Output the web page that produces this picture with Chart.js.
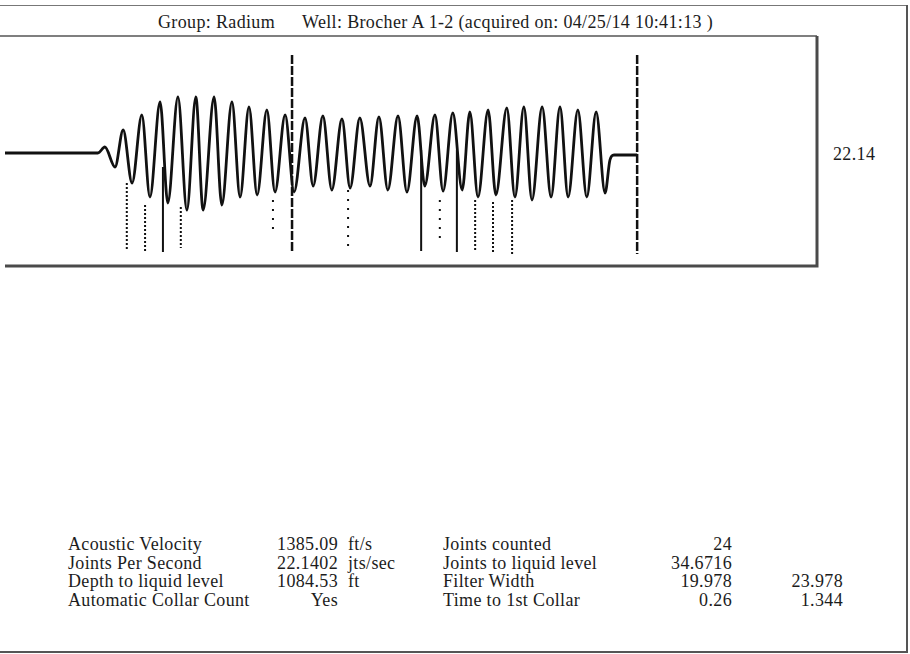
<!DOCTYPE html>
<html>
<head>
<meta charset="utf-8">
<script src="https://cdn.jsdelivr.net/npm/chart.js@4.4.1/dist/chart.umd.min.js"></script>
<style>
  html, body { margin: 0; padding: 0; background: #fff; }
  body { width: 910px; height: 654px; position: relative; overflow: hidden;
         font-family: 'Liberation Serif', 'Times New Roman', serif; color: #1c1c1c; }
  .frame-top { position: absolute; left: 0; top: 5px; width: 908px; border-top: 1px solid #777; }
  .frame-right { position: absolute; left: 906px; top: 5px; height: 648px; border-left: 2px solid #555; }
  .frame-bottom { position: absolute; left: 0; top: 651px; width: 908px; border-top: 2px solid #555; }
  .txt { position: absolute; font-size: 18px; line-height: 18px; white-space: nowrap; letter-spacing: 0.35px; }
  .r { text-align: right; width: 120px; }
  #plotWrap { position: absolute; left: 0; top: 30px; width: 830px; height: 245px; }
</style>
</head>
<body>
<div class="frame-top"></div>
<div class="frame-right"></div>
<div class="frame-bottom"></div>

<div class="txt" style="left:158px; top:13px;">Group: Radium</div>
<div class="txt" style="left:302px; top:13px;">Well: Brocher A 1-2 (acquired on: 04/25/14 10:41:13 )</div>
<div class="txt" id="jpsLabel" style="left:833px; top:145px;"></div>

<div id="plotWrap"><canvas id="acousticChart"></canvas></div>
<div id="table"></div>

<script>
// acoustic trace, time in seconds, amplitude relative
const waveTime = [0, 0.229, 0.246, 0.271, 0.291, 0.313, 0.337, 0.357, 0.382, 0.401,
  0.426, 0.448, 0.470, 0.488, 0.515, 0.534, 0.559, 0.579, 0.601, 0.621,
  0.645, 0.665, 0.690, 0.712, 0.739, 0.759, 0.783, 0.805, 0.830, 0.850,
  0.874, 0.899, 0.921, 0.943, 0.968, 0.990, 1.015, 1.034, 1.059, 1.079,
  1.103, 1.126, 1.145, 1.165, 1.190, 1.209, 1.236, 1.256, 1.278, 1.298,
  1.323, 1.345, 1.367, 1.387, 1.411, 1.433, 1.456, 1.478, 1.490, 1.500, 1.557];
const waveAmp = [-0.02, -0.02, 0.04, -0.16, 0.21, -0.32, 0.36, -0.46, 0.49, -0.52,
  0.54, -0.59, 0.54, -0.59, 0.54, -0.54, 0.49, -0.46, 0.44, -0.44,
  0.41, -0.41, 0.36, -0.41, 0.33, -0.35, 0.35, -0.39, 0.32, -0.37,
  0.33, -0.35, 0.34, -0.39, 0.35, -0.41, 0.35, -0.35, 0.36, -0.40,
  0.38, -0.39, 0.39, -0.46, 0.41, -0.44, 0.43, -0.46, 0.44, -0.49,
  0.44, -0.46, 0.44, -0.46, 0.41, -0.46, 0.39, -0.42, -0.09, -0.04, -0.04];

// collar picks
const dottedCollarTimes = [0.300, 0.345, 0.433, 1.158, 1.202, 1.249];
const dottedCollarTops = [-0.32, -0.54, -0.56, -0.49, -0.51, -0.49];
const dottedCollarBottoms = [-1.00, -1.00, -0.97, -1.01, -1.02, -1.03];
const sparseCollarTimes = [0.660, 0.845, 1.071];
const sparseCollarTops = [-0.49, -0.39, -0.49];
const sparseCollarBottoms = [-0.83, -0.96, -0.93];
const solidCollarTimes = [0.389, 1.025, 1.113];
const solidCollarTops = [-0.16, 0.01, 0.01];
const solidCollarBottoms = [-1.01, -1.00, -1.01];
// selection markers
const markerTimes = [0.707, 1.557];
const markerTops = [0.96, 0.96];
const markerBottoms = [-1.02, -1.03];

const jointsPerSecond = '22.14';

const leftLabels = ['Acoustic Velocity', 'Joints Per Second', 'Depth to liquid level', 'Automatic Collar Count'];
const leftValues = ['1385.09', '22.1402', '1084.53', 'Yes'];
const leftUnits = ['ft/s', 'jts/sec', 'ft', ''];
const rightLabels = ['Joints counted', 'Joints to liquid level', 'Filter Width', 'Time to 1st Collar'];
const rightValues = ['24', '34.6716', '19.978', '0.26'];
const rightExtra = ['', '', '23.978', '1.344'];

document.getElementById('jpsLabel').textContent = jointsPerSecond;

// info table under the trace
const table = document.getElementById('table');
function addText(text, left, top, right) {
  const d = document.createElement('div');
  d.className = right ? 'txt r' : 'txt';
  d.style.left = (right ? left - 120 : left) + 'px';
  d.style.top = top + 'px';
  d.textContent = text;
  table.appendChild(d);
}
leftLabels.forEach((lab, i) => {
  const top = 535 + i * 18.7;
  addText(lab, 68, top);
  addText(leftValues[i], 338, top, true);
  addText(leftUnits[i], 348, top);
  addText(rightLabels[i], 443, top);
  addText(rightValues[i], 732, top, true);
  addText(rightExtra[i], 843, top, true);
});

function segments(times, tops, bottoms) {
  const pts = [];
  times.forEach((t, i) => {
    pts.push({ x: t, y: tops[i] }, { x: t, y: bottoms[i] }, { x: t, y: null });
  });
  return pts;
}

const boxPlugin = {
  id: 'box',
  afterDraw(chart) {
    const { ctx, chartArea: a } = chart;
    ctx.save();
    ctx.strokeStyle = '#555';
    ctx.lineWidth = 1.5;
    ctx.beginPath();
    ctx.moveTo(0, a.top);
    ctx.lineTo(a.right, a.top);
    ctx.stroke();
    ctx.lineWidth = 3;
    ctx.strokeStyle = '#4a4a4a';
    ctx.beginPath();
    ctx.moveTo(a.right, a.top);
    ctx.lineTo(a.right, a.bottom);
    ctx.lineTo(a.left, a.bottom);
    ctx.stroke();
    ctx.restore();
  }
};

const ctx = document.getElementById('acousticChart').getContext('2d');
new Chart(ctx, {
  type: 'line',
  data: {
    datasets: [
      {
        data: waveTime.map((t, i) => ({ x: t, y: waveAmp[i] })),
        borderColor: '#111',
        borderWidth: 2.8,
        cubicInterpolationMode: 'monotone'
      },
      {
        data: segments(dottedCollarTimes, dottedCollarTops, dottedCollarBottoms),
        borderColor: '#111',
        borderWidth: 2,
        borderDash: [2, 2]
      },
      {
        data: segments(sparseCollarTimes, sparseCollarTops, sparseCollarBottoms),
        borderColor: '#111',
        borderWidth: 2,
        borderDash: [2, 7]
      },
      {
        data: segments(solidCollarTimes, solidCollarTops, solidCollarBottoms),
        borderColor: '#111',
        borderWidth: 2
      },
      {
        data: segments(markerTimes, markerTops, markerBottoms),
        borderColor: '#111',
        borderWidth: 2.5,
        borderDash: [9, 2]
      }
    ]
  },
  options: {
    responsive: true,
    maintainAspectRatio: false,
    animation: false,
    spanGaps: false,
    layout: { padding: { left: 5, top: 6, right: 13, bottom: 9 } },
    elements: { point: { radius: 0 } },
    plugins: { legend: { display: false }, tooltip: { enabled: false } },
    scales: {
      x: { type: 'linear', min: 0, max: 2.0, display: false },
      y: { min: -1.15, max: 1.15, display: false }
    }
  },
  plugins: [boxPlugin]
});
</script>
</body>
</html>
